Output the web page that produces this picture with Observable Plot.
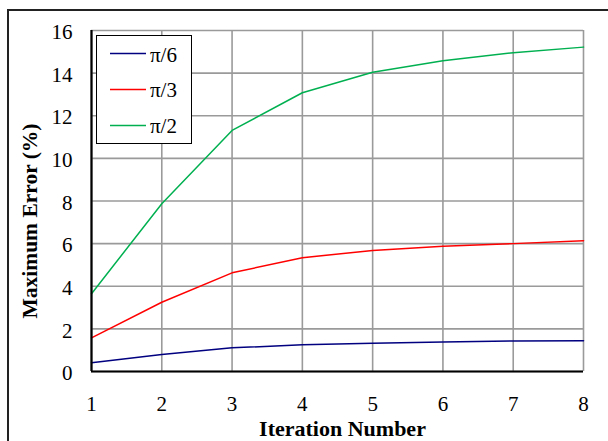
<!DOCTYPE html>
<html>
<head>
<meta charset="utf-8">
<script src="https://cdn.jsdelivr.net/npm/d3@7"></script>
<script src="https://cdn.jsdelivr.net/npm/@observablehq/plot@0.6"></script>
<style>
  html, body { margin: 0; padding: 0; width: 608px; height: 441px; overflow: hidden; background: #fff; }
  #outer { position: absolute; left: 7px; top: 9px; width: 700px; height: 600px; border: 2px solid #222; box-sizing: border-box; }
  #chart { position: absolute; left: 0; top: 0; }
  #legend { position: absolute; left: 96px; top: 35px; width: 96px; height: 109px; border: 1.5px solid #000; background: #fff; box-sizing: border-box; font-family: "Times New Roman", "Liberation Serif", serif; font-size: 21px; }
  .row { position: relative; height: 35.8px; }
  .row svg { position: absolute; left: 13px; top: 0; }
  .row span { position: absolute; left: 53px; top: 6.5px; line-height: 24px; white-space: nowrap; }
</style>
</head>
<body>
<div id="outer"></div>
<div id="chart"></div>
<div id="legend"></div>
<script>
const iterations = [1, 2, 3, 4, 5, 6, 7, 8];
const seriesNames = ["π/6", "π/3", "π/2"];
const seriesColors = ["#000080", "#ff0000", "#00b050"];
const pi6 = [0.41, 0.80, 1.11, 1.25, 1.33, 1.38, 1.43, 1.44];
const pi3 = [1.58, 3.25, 4.63, 5.34, 5.68, 5.88, 6.00, 6.14];
const pi2 = [3.65, 7.87, 11.31, 13.08, 14.04, 14.58, 14.96, 15.22];
const xTicks = [1, 2, 3, 4, 5, 6, 7, 8];
const yTicks = [0, 2, 4, 6, 8, 10, 12, 14, 16];
const xTitle = "Iteration Number";
const yTitle = "Maximum Error (%)";

const seriesValues = [pi6, pi3, pi2];
const data = [];
seriesValues.forEach((vals, i) => vals.forEach((v, j) => data.push({series: seriesNames[i], x: iterations[j], y: v})));

const serif = "'Times New Roman', 'Liberation Serif', serif";
const chart = Plot.plot({
  width: 608,
  height: 441,
  marginLeft: 91,
  marginRight: 25,
  marginTop: 30,
  marginBottom: 70,
  style: {fontFamily: serif, fontSize: "21px", color: "#000", background: "transparent"},
  x: {domain: [1, 8], label: null},
  y: {domain: [0, 16], label: null},
  color: {domain: seriesNames, range: seriesColors},
  marks: [
    Plot.gridX(xTicks, {stroke: "#9a9a9a", strokeOpacity: 1, strokeWidth: 1.6}),
    Plot.gridY(yTicks, {stroke: "#9a9a9a", strokeOpacity: 1, strokeWidth: 1.6}),
    Plot.line(data, {x: "x", y: "y", z: "series", stroke: "series", strokeWidth: 1.5}),
    Plot.ruleY([0], {stroke: "#000", strokeWidth: 2.2}),
    Plot.ruleX([1], {stroke: "#000", strokeWidth: 2.2}),
    Plot.axisX(xTicks, {tickSize: 0, tickPadding: 25, fontSize: 21, fontFamily: serif, label: null}),
    Plot.axisY(yTicks, {tickSize: 0, tickPadding: 19, dy: 2, fontSize: 21, fontFamily: serif, label: null}),
    Plot.text([xTitle], {frameAnchor: "bottom", lineAnchor: "bottom", dx: 5, dy: 64.8, fontSize: 22, fontFamily: serif, fontWeight: "bold"}),
    Plot.text([yTitle], {frameAnchor: "left", textAnchor: "middle", lineAnchor: "middle", rotate: -90, dx: -61, dy: 20, fontSize: 21.5, fontFamily: serif, fontWeight: "bold"})
  ]
});
document.getElementById("chart").appendChild(chart);

const legend = document.getElementById("legend");
seriesNames.forEach((name, i) => {
  const row = document.createElement("div");
  row.className = "row";
  row.innerHTML = `<svg width="36" height="36"><line x1="0" x2="36" y1="17.5" y2="17.5" stroke="${seriesColors[i]}" stroke-width="1.5"/></svg><span>${name}</span>`;
  legend.appendChild(row);
});
</script>
</body>
</html>
